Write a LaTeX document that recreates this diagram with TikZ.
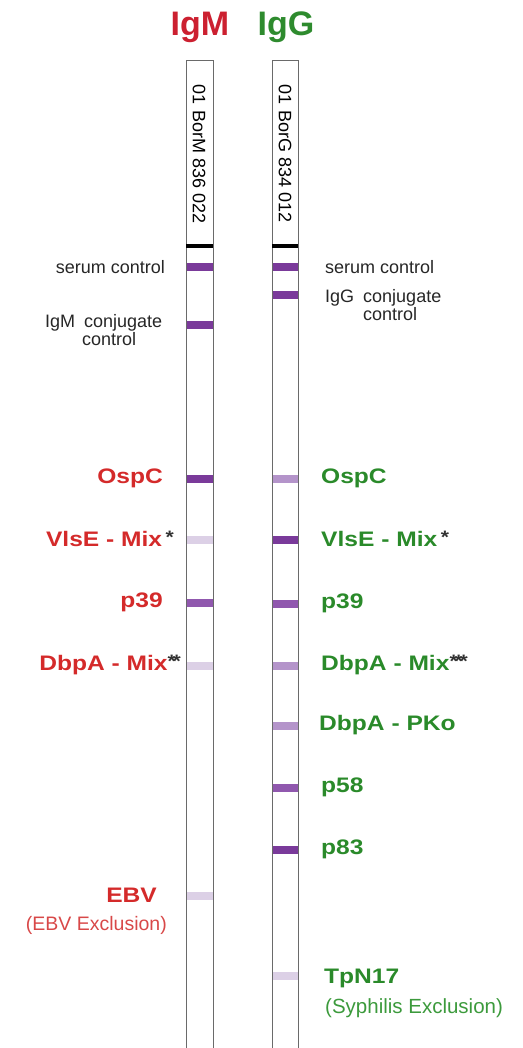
\documentclass[tikz,border=0pt]{standalone}
\usepackage{fontspec}
\setmainfont{Liberation Sans}
\newfontfamily\labfont[FakeStretch=1.17]{Liberation Sans}
\definecolor{tred}{HTML}{CC2030}
\definecolor{tgreen}{HTML}{2E8B2E}
\definecolor{lred}{HTML}{D42A2A}
\definecolor{lgreen}{HTML}{2A8A2A}
\definecolor{xred}{HTML}{D84848}
\definecolor{xgreen}{HTML}{3C9A3C}
\definecolor{bdark}{HTML}{7A3A9A}
\definecolor{bmid}{HTML}{9058AE}
\definecolor{bmlight}{HTML}{B494CA}
\definecolor{blight}{HTML}{DCD0E6}
\definecolor{stripgray}{HTML}{6A6A6A}
\tikzset{
  stripbox/.style={draw=stripgray, line width=0.9pt, fill=white},
  band/.style={fill=#1, draw=none},
  title/.style={font=\fontsize{34}{36}\selectfont\bfseries, inner sep=0pt},
  small/.style={font=\fontsize{18}{20}\selectfont, text=black!85, inner sep=0pt},
  labL/.style={font=\labfont\fontsize{21}{23}\selectfont\bfseries, text=lred, inner sep=0pt, anchor=east},
  labR/.style={font=\labfont\fontsize{21}{23}\selectfont\bfseries, text=lgreen, inner sep=0pt, anchor=west},
  striptext/.style={font=\fontsize{18}{20}\selectfont, rotate=-90, inner sep=0pt, anchor=west}
}
\newcommand{\mystar}{\raisebox{0.25ex}{\textcolor{black!80}{\fontsize{18}{18}\selectfont *}}}
\begin{document}
\begin{tikzpicture}[x=1pt, y=-1pt]
\useasboundingbox (0,0) rectangle (522,1048);
\begin{scope}
\clip (0,0) rectangle (522,1048);
% strips
\draw[stripbox] (186,60) rectangle (213,1060);
\draw[stripbox] (272,60) rectangle (298,1060);
\end{scope}
% titles
\node[title, text=tred] (tM) at (200,27) {IgM};
\node[title, text=tgreen] (tG) at (286,27) {IgG};
% strip texts
\node[striptext] (sM) at (199,84) {01\,\,BorM 836 022};
\node[striptext] (sG) at (285,84) {01\,\,BorG 834 012};
% black bars
\fill[black] (186,244) rectangle (213,248.5);
\fill[black] (272,244) rectangle (298,248.5);
% left bands
\fill[band=bdark] (186.5,263.5) rectangle (212.5,271.5);
\fill[band=bdark] (186.5,321) rectangle (212.5,329);
\fill[band=bdark] (186.5,474.5) rectangle (212.5,482.5);
\fill[band=blight] (186.5,535.5) rectangle (212.5,543.5);
\fill[band=bmid] (186.5,598.5) rectangle (212.5,606.5);
\fill[band=blight] (186.5,661.5) rectangle (212.5,669.5);
\fill[band=blight] (186.5,891.5) rectangle (212.5,899.5);
% right bands
\fill[band=bdark] (272.5,263.5) rectangle (297.5,271.5);
\fill[band=bdark] (272.5,291) rectangle (297.5,299);
\fill[band=bmlight] (272.5,474.5) rectangle (297.5,482.5);
\fill[band=bdark] (272.5,535.5) rectangle (297.5,543.5);
\fill[band=bmid] (272.5,599.5) rectangle (297.5,607.5);
\fill[band=bmlight] (272.5,661.5) rectangle (297.5,669.5);
\fill[band=bmlight] (272.5,721.5) rectangle (297.5,729.5);
\fill[band=bmid] (272.5,783.5) rectangle (297.5,791.5);
\fill[band=bdark] (272.5,845.5) rectangle (297.5,853.5);
\fill[band=blight] (272.5,971.5) rectangle (297.5,979.5);
% left small labels
\node[small, anchor=east] (scL) at (165,267) {serum control};
\node[small, anchor=west] (icL1) at (45,323) {IgM\,\,\,conjugate};
\node[small, anchor=west] (icL2) at (82,339.5) {control};
% right small labels
\node[small, anchor=west] (scR) at (325,267) {serum control};
\node[small, anchor=west] (icR1) at (325,298) {IgG\,\,\,conjugate};
\node[small, anchor=west] (icR2) at (363,314) {control};
% left bold labels
\node[labL] (oL) at (163,478) {OspC};
\node[labL] (vL) at (174,539) {VlsE - Mix\,\mystar};
\node[labL] (pL) at (163,602) {p39};
\node[labL] (dL) at (181,665) {DbpA - Mix\mystar\kern-0.15em\mystar};
\node[labL] (eL) at (157,895) {EBV};
\node[font=\fontsize{19.5}{21}\selectfont, text=xred, inner sep=0pt, anchor=east] (exL) at (167,925) {(EBV Exclusion)};
% right bold labels
\node[labR] (oR) at (321,478) {OspC};
\node[labR] (vR) at (321,539) {VlsE - Mix\,\mystar};
\node[labR] (pR) at (321,603) {p39};
\node[labR] (dR) at (321,665) {DbpA - Mix\mystar\kern-0.15em\mystar\kern-0.15em\mystar};
\node[labR] (kR) at (319,725) {DbpA - PKo};
\node[labR] (p58) at (321,787) {p58};
\node[labR] (p83) at (321,849) {p83};
\node[labR] (tR) at (324,978) {TpN17};
\node[font=\fontsize{20.5}{22}\selectfont, text=xgreen, inner sep=0pt, anchor=west] (exR) at (325,1008) {(Syphilis Exclusion)};
\end{tikzpicture}
\end{document}
